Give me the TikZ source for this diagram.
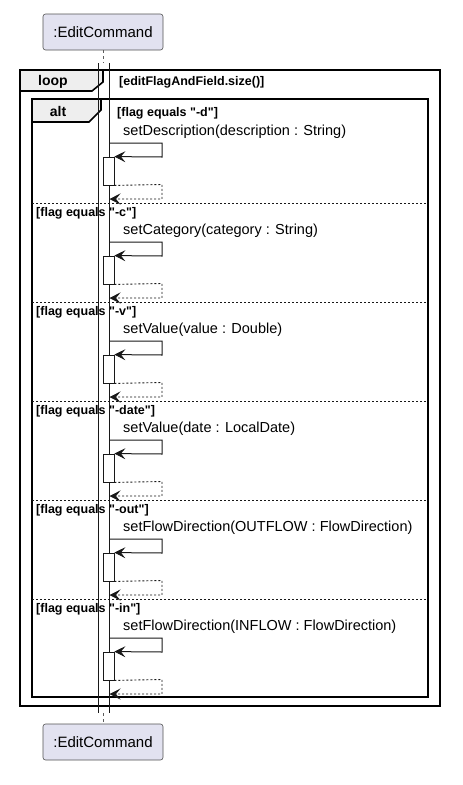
\documentclass[tikz,border=0pt]{standalone}
\usepackage{fontspec}
\setmainfont{Liberation Sans}
\newfontfamily\plainsans{Liberation Sans}
\usetikzlibrary{arrows.meta}
\definecolor{partfill}{HTML}{E2E2F0}
\definecolor{tabfill}{HTML}{EEEEEE}
\definecolor{ink}{HTML}{181818}
\begin{document}
\begin{tikzpicture}[x=1pt,y=-1pt,
  participant/.style={draw=ink!75, fill=partfill, rounded corners=2.5pt, line width=0.6pt,
    minimum width=120pt, minimum height=36pt, inner sep=0pt, font=\plainsans\fontsize{15}{18}\selectfont},
  lifedash/.style={draw=ink!70, line width=0.6pt, dash pattern=on 3pt off 3pt},
  lifeline/.style={draw=ink, line width=0.8pt},
  frameline/.style={draw=black, line width=1.6pt},
  tabshape/.style={draw=black, fill=tabfill, line width=1.6pt, line join=miter},
  tablabel/.style={font=\plainsans\bfseries\fontsize{14}{16}\selectfont, inner sep=0pt},
  guard/.style={font=\plainsans\bfseries\fontsize{12.5}{15}\selectfont, anchor=west, inner sep=0pt},
  msgtext/.style={font=\plainsans\fontsize{14.5}{17}\selectfont, anchor=west, inner sep=0pt},
  actbox/.style={draw=ink, fill=white, line width=0.8pt, minimum width=11pt, minimum height=28pt, inner sep=0pt},
  tip/.style={-{Stealth[length=11pt,width=11pt,inset=4.5pt,line width=0.8pt]}},
  msg/.style={draw=ink, line width=1pt, tip},
  ret/.style={draw=ink, line width=0.9pt, dash pattern=on 2pt off 2pt, tip},
  sep/.style={draw=ink, line width=0.9pt, dash pattern=on 2pt off 2pt}
]
\useasboundingbox (0,0) rectangle (463,785);

% participants
\node[participant] (top) at (103,32) {:EditCommand};
\node[participant] (bot) at (103,742) {:EditCommand};

% lifeline pieces
\coordinate (lt) at (103,63);
\coordinate (lb) at (103,713);
\draw[lifedash] (top.south) -- (lt);
\draw[lifedash] (lb) -- (bot.north);

% loop frame
\draw[frameline] (20,70) rectangle (440,706);
\draw[tabshape] (20,70) -- (103,70) -- (103,82) -- (92,91) -- (20,91) -- cycle;
\node[tablabel] (looplbl) at (53,82) {loop};
\node[guard] (loopguard) at (119,82) {[editFlagAndField.size()]};

% alt frame
\draw[frameline] (32,99) rectangle (428,697);
\draw[tabshape] (32,99) -- (101,99) -- (101,110) -- (89,122) -- (32,122) -- cycle;
\node[tablabel] (altlbl) at (58,111) {alt};

% separators
\foreach \s in {203,302,401,500,599}{
  \draw[sep] (32,\s) -- (428,\s);
}

% guards
\node[guard] (g0) at (117,113) {[flag equals "-d"]};
\node[guard] (g1) at (36,213) {[flag equals "-c"]};
\node[guard] (g2) at (36,312) {[flag equals "-v"]};
\node[guard] (g3) at (36,411) {[flag equals "-date"]};
\node[guard] (g4) at (36,510) {[flag equals "-out"]};
\node[guard] (g5) at (36,609) {[flag equals "-in"]};

% solid lifeline lines
\coordinate (l1t) at (98,63);  \coordinate (l1b) at (98,713);
\coordinate (l2t) at (109,63); \coordinate (l2b) at (109,713);
\draw[lifeline] (l1t) -- (l1b);
\draw[lifeline] (l2t) -- (l2b);

% messages
\foreach \k/\txt in {0/setDescription(description : String),
                     1/setCategory(category : String),
                     2/setValue(value : Double),
                     3/setValue(date : LocalDate),
                     4/setFlowDirection(OUTFLOW : FlowDirection),
                     5/setFlowDirection(INFLOW : FlowDirection)}{
  \pgfmathsetmacro{\s}{104+99*\k}
  \node[msgtext] (m\k) at (123,\s+27.5) {\txt};
  \node[actbox] (a\k) at (108.5,\s+67) {};
  \coordinate (ms\k) at (109,\s+39);
  \coordinate (mc\k) at (162,\s+39);
  \coordinate (md\k) at (162,\s+53);
  \draw[msg] (ms\k) -- (mc\k) -- (md\k) -- (a\k.north east);
  \coordinate (rc\k) at (162,\s+80.5);
  \coordinate (rd\k) at (162,\s+95);
  \coordinate (re\k) at (109.5,\s+95);
  \draw[ret] (a\k.south east) -- (rc\k) -- (rd\k) -- (re\k);
}
\end{tikzpicture}
\end{document}
